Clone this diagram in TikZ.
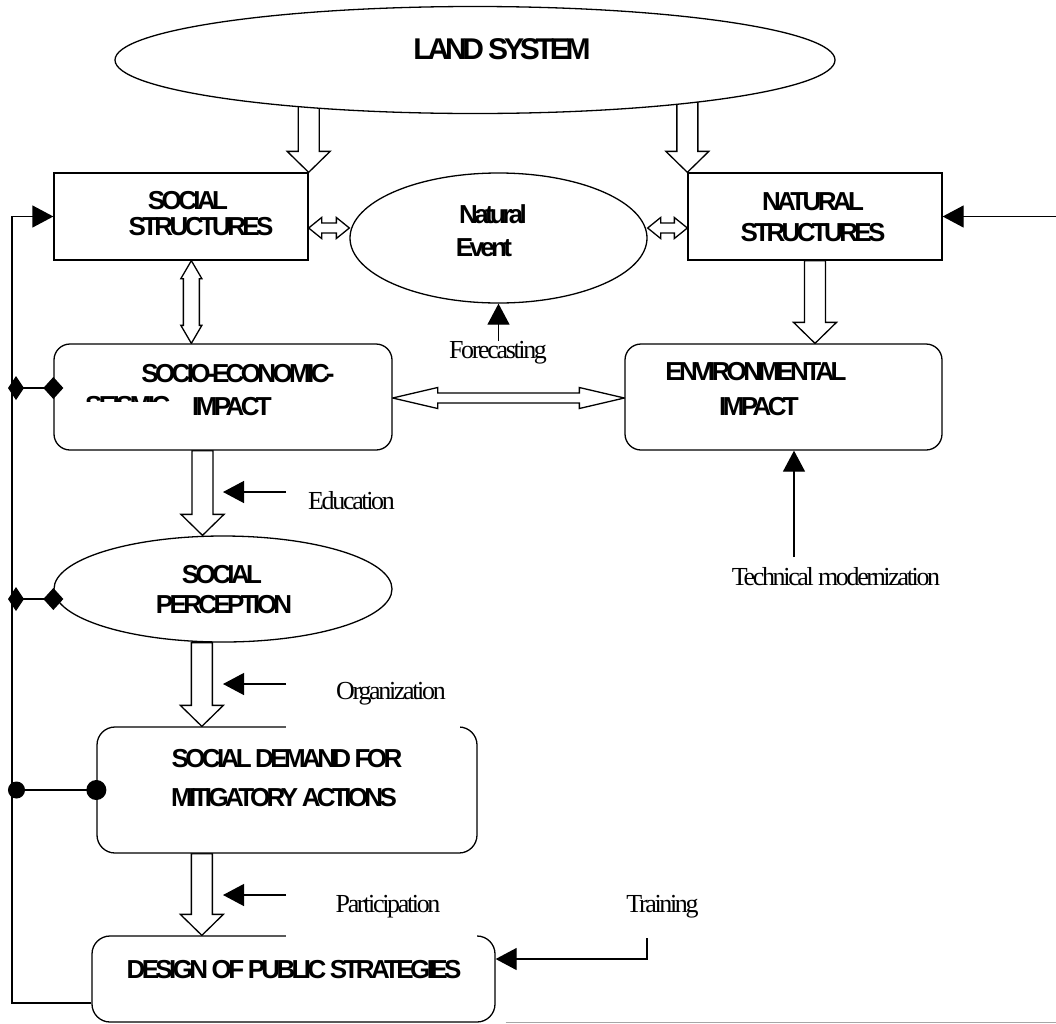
\documentclass[tikz,border=0pt]{standalone}
\usepackage{fontspec}
\setmainfont{Liberation Serif}[LetterSpace=-9]
\newfontfamily\hv{Liberation Sans}[LetterSpace=-14]
\usetikzlibrary{shapes.geometric,arrows.meta,calc}
\pgfdeclarelayer{bg}
\pgfsetlayers{bg,main}
\tikzset{
 lw/.style={line width=1.3pt},
 box/.style={draw, lw, fill=white, rectangle, inner sep=0},
 rbox/.style={box, rounded corners=16pt},
 ell/.style={draw, lw, fill=white, ellipse, inner sep=0},
 btxt/.style={font=\hv\bfseries\fontsize{26}{30}\selectfont, inner sep=0, anchor=base},
 ltxt/.style={font=\fontsize{26}{30}\selectfont, inner sep=0, anchor=base},
 arr/.style={lw, -{Triangle[length=21pt,width=22pt]}},
 dmd/.style={lw, {Diamond[length=16pt,width=24pt]}-{Diamond[length=20pt,width=22pt]}, shorten <=-4pt, shorten >=-10pt},
 cir/.style={lw, {Circle[length=17pt]}-{Circle[length=20pt]}, shorten <=-4pt, shorten >=-10pt},
 sblock/.style={draw, lw, fill=white, to path={let \p1=(\tikztostart),\p2=(\tikztotarget) in
   (\x2-10.5pt,\y1) -- (\x2-10.5pt,\y2+21pt) -- (\x2-21.5pt,\y2+21pt) -- (\x2,\y2) -- (\x2+21.5pt,\y2+21pt) -- (\x2+10.5pt,\y2+21pt) -- (\x2+10.5pt,\y1) -- cycle}},
 vdbl/.style={draw, lw, fill=white, to path={let \p1=(\tikztostart),\p2=(\tikztotarget) in
   (\x1,\y1) -- (\x1+10.5pt,\y1-18pt) -- (\x1+8pt,\y1-18pt) -- (\x1+8pt,\y2+18pt) -- (\x1+10.5pt,\y2+18pt) -- (\x1,\y2) -- (\x1-10.5pt,\y2+18pt) -- (\x1-8pt,\y2+18pt) -- (\x1-8pt,\y1-18pt) -- (\x1-10.5pt,\y1-18pt) -- cycle}},
 hdbl/.style={draw, lw, fill=white, to path={let \p1=(\tikztostart),\p2=(\tikztotarget) in
   (\x1,\y1) -- (\x1+#1,\y1+10.5pt) -- (\x1+#1,\y1+5pt) -- (\x2-#1,\y1+5pt) -- (\x2-#1,\y1+10.5pt) -- (\x2,\y1) -- (\x2-#1,\y1-10.5pt) -- (\x2-#1,\y1-5pt) -- (\x1+#1,\y1-5pt) -- (\x1+#1,\y1-10.5pt) -- cycle}}
}
\begin{document}
\begin{tikzpicture}[x=1pt,y=-1pt]
\useasboundingbox (0,0) rectangle (1056,1023);
% main shapes
\node[ell, minimum width=720pt, minimum height=107pt] (land) at (475,60) {};
\node[box, minimum width=254pt, minimum height=87pt] (socs) at (181,216.5) {};
\node[box, minimum width=254pt, minimum height=87pt] (nats) at (815,216.5) {};
\node[ell, minimum width=297pt, minimum height=130pt] (event) at (498.5,238) {};
\node[rbox, minimum width=338pt, minimum height=106pt] (socio) at (223,397) {};
\node[rbox, minimum width=317pt, minimum height=106pt] (env) at (783.5,397) {};
\node[ell, minimum width=338pt, minimum height=106pt] (perc) at (223,589) {};
\node[rbox, rounded corners=18pt, minimum width=380pt, minimum height=126pt] (demand) at (287,790) {};
\node[rbox, rounded corners=18pt, minimum width=403pt, minimum height=86pt] (design) at (293.5,979) {};
% label cover boxes
\fill[white] (286,664) rectangle (460,731);
\fill[white] (286,878) rectangle (477,939);
% texts in shapes
\node[btxt, font=\hv\bfseries\fontsize{30}{34}\selectfont] (tland) at (502,59) {LAND SYSTEM};
\node[btxt] (t1) at (188,209) {SOCIAL};
\node[btxt] (t2) at (201,235) {STRUCTURES};
\node[btxt] (t3) at (813,210) {NATURAL};
\node[btxt] (t4) at (813,241) {STRUCTURES};
\node[btxt] (t5) at (493,223) {Natural};
\node[btxt] (t6) at (484,256) {Event};
\node[btxt] (t7) at (238,382) {SOCIO-ECONOMIC-};
\node[btxt] (t8) at (232,415) {IMPACT};
\begin{scope}
\clip (80,389) rectangle (175,401.5);
\node[btxt, anchor=base west] (seis) at (85,414) {SEISMIC};
\end{scope}
\node[btxt] (t9) at (756,380) {ENVIRONMENTAL};
\node[btxt] (t10) at (759,415) {IMPACT};
\node[btxt] (t11) at (222,583) {SOCIAL};
\node[btxt] (t12) at (224,613) {PERCEPTION};
\node[btxt] (t13) at (287,767) {SOCIAL DEMAND FOR};
\node[btxt] (t14) at (284,806) {MITIGATORY ACTIONS};
\node[btxt] (t15) at (294,978) {DESIGN OF PUBLIC STRATEGIES};
% labels
\node[ltxt] (forecast) at (498,358) {Forecasting};
\node[ltxt] (edu) at (351.5,509) {Education};
\node[ltxt] (org) at (391,699) {Organization};
\node[ltxt] (part) at (388,912) {Participation};
\node[ltxt] (train) at (662.5,912) {Training};
\node[ltxt] (tech) at (836,585) {Technical modernization};
% coordinates
\coordinate (fc) at (498.5,341);
\coordinate (eduS) at (286,492);
\coordinate (orgS) at (286,684);
\coordinate (partS) at (286,895);
\coordinate (tm) at (794,557);
\coordinate (tr) at (647,938);
\coordinate (rin) at (1056,216.5);
\coordinate (fb) at (12,1003);
\coordinate (d1) at ($(socio.west)+(0,-9)$);
\coordinate (d2) at ($(perc.west)+(0,10)$);
\coordinate (b4t) at ($(perc.north)+(-20.5,0)$);
\coordinate (b5t) at ($(demand.north west)+(105.5,0)$);
\coordinate (b6t) at ($(design.north west)+(110.5,0)$);
\coordinate (v1) at ($(socs.south west)+(138,0)$);
\coordinate (v2) at (v1 |- socio.north);
\coordinate (h1) at ($(socs.east)+(0,11.5)$);
\coordinate (h2) at (h1 -| event.west);
\coordinate (h3) at (h1 -| event.east);
\coordinate (h4) at (h1 -| nats.west);
\coordinate (h5) at ($(socio.east)+(0,1)$);
\coordinate (h6) at (h5 -| env.west);
% block arrows
\begin{pgfonlayer}{bg}
\draw[sblock] (land.center) to (socs.north east);
\draw[sblock] (land.center) to (nats.north west);
\draw[sblock] (nats.south) to (nats.south |- env.north);
\draw[sblock] (socio.south) to (b4t);
\draw[sblock] (perc.south) to (b5t);
\draw[sblock] (demand.south) to (b6t);
\draw[vdbl] (v1) to (v2);
\draw[hdbl=13pt] (h1) to (h2);
\draw[hdbl=13pt] (h3) to (h4);
\draw[hdbl=45pt] (h5) to (h6);
\end{pgfonlayer}
% thin arrows
\draw[arr] (fc) -- (event.south);
\draw[arr] (eduS) -- (eduS -| perc.north);
\draw[arr] (orgS) -- (orgS -| perc.north);
\draw[arr] (partS) -- (partS -| perc.north);
\draw[arr] (tm) -- (tm |- env.south);
\draw[arr] (tr) |- ($(design.east)+(0,-20)$);
\draw[arr] (rin) -- (nats.east);
\draw[arr] ($(design.west)+(0,24)$) -- (fb) |- (socs.west);
\draw[dmd] (fb |- d1) -- (d1);
\draw[dmd] (fb |- d2) -- (d2);
\draw[cir] (fb |- demand.west) -- (demand.west);
\draw[gray!70, line width=1pt] ($(design.south east)+(10,0)$) -- (design.south east -| rin);
\end{tikzpicture}
\end{document}
